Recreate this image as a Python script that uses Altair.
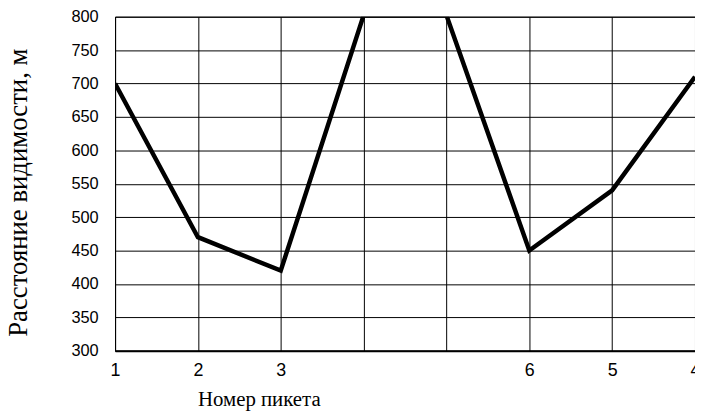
import json
import altair as alt
import pandas as pd

positions = [0, 1, 2, 3, 4, 5, 6, 7]
picket_labels = ["1", "2", "3", "", "", "6", "5", "4"]
distances = [700, 470, 420, 802, 802, 450, 540, 710]
y_ticks = [300, 350, 400, 450, 500, 550, 600, 650, 700, 750, 800]

df = pd.DataFrame({"pos": positions, "dist": distances})

label_expr = json.dumps(picket_labels).replace('"', "'") + "[datum.value]"

chart = (
    alt.Chart(df)
    .mark_line(color="black", strokeWidth=4.5, clip=True, strokeJoin="miter")
    .encode(
        x=alt.X(
            "pos:Q",
            scale=alt.Scale(domain=[0, 7], nice=False, zero=False),
            axis=alt.Axis(
                values=positions,
                labelExpr=label_expr,
                grid=True,
                gridColor="black",
                gridOpacity=1,
                gridWidth=1,
                ticks=False,
                domainColor="black",
                domainWidth=2,
                labelFont="Liberation Sans",
                labelFontSize=18,
                labelColor="black",
                labelPadding=11,
                labelFlush=False,
                labelOverlap=False,
                title="Номер пикета",
                titleFont="Liberation Serif",
                titleFontSize=21,
                titleFontWeight="normal",
                titleColor="black",
                titleX=145,
                titleY=49,
                titleBaseline="middle",
                titleAlign="center",
            ),
        ),
        y=alt.Y(
            "dist:Q",
            scale=alt.Scale(domain=[300, 800], nice=False, zero=False),
            axis=alt.Axis(
                values=y_ticks,
                grid=True,
                gridColor="black",
                gridOpacity=1,
                gridWidth=1,
                ticks=False,
                domainColor="black",
                domainWidth=1,
                labelFont="Liberation Sans",
                labelFontSize=16.5,
                labelColor="black",
                labelPadding=17,
                labelOverlap=False,
                title="Расстояние видимости, м",
                titleFont="Liberation Serif",
                titleFontSize=27,
                titleFontWeight="normal",
                titleColor="black",
                titleAngle=270,
                titleX=-97,
                titleY=177,
                titleBaseline="middle",
                titleAlign="center",
            ),
        ),
    )
    .properties(
        width=585,
        height=337,
        autosize=alt.AutoSizeParams(type="none"),
        padding={"left": 108, "top": 7, "right": 0, "bottom": 62},
    )
    .configure_view(stroke="black", strokeWidth=1)
)

chart.save("out.html", embed_options={"renderer": "svg", "actions": False})
